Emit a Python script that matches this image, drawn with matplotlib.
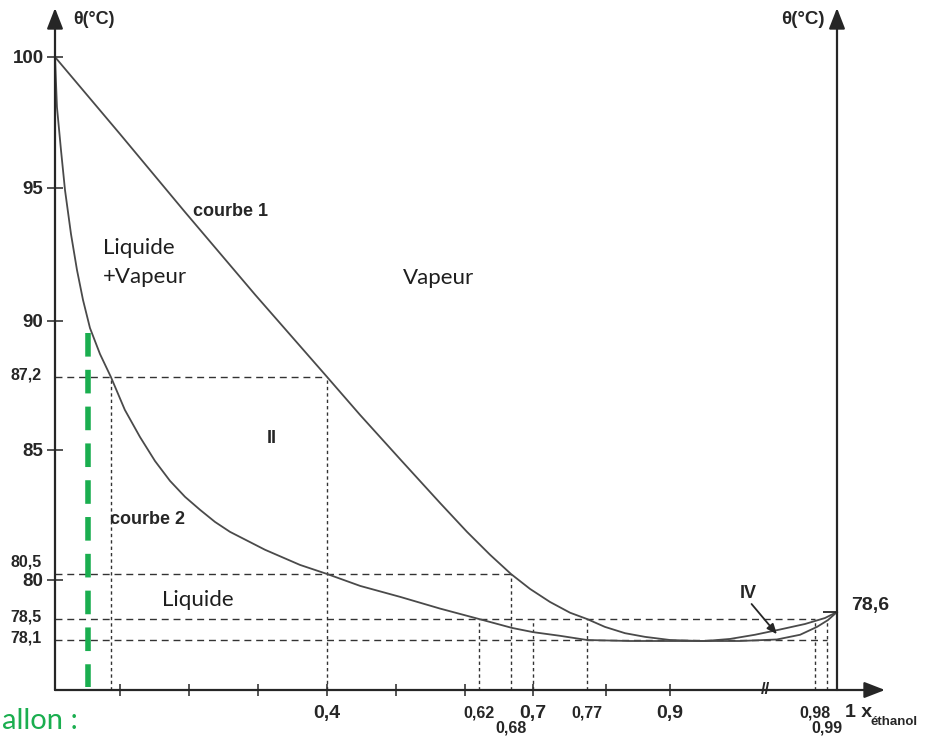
"""Diagramme binaire eau / ethanol (azeotrope), redessine a partir de la figure."""
import numpy as np
import matplotlib
matplotlib.use("Agg")
import matplotlib.pyplot as plt

# --- values: x = fraction molaire d'ethanol, t = theta (°C) ---
courbe1_x = [0.0, 0.1, 0.194, 0.296, 0.4, 0.4476, 0.5056, 0.5635, 0.6026, 0.6406,
             0.68, 0.6973, 0.722, 0.748, 0.77, 0.798, 0.8295, 0.8608, 0.9, 0.9166,
             0.9193, 0.9331, 0.9469, 0.9607, 0.9745, 0.9883, 1.0]
courbe1_t = [100.0, 97.06, 94.10, 90.98, 87.2, 86.06, 84.67, 83.08, 82.03, 81.20,
             80.5, 79.61, 79.04, 78.59, 78.5, 78.35, 78.23, 78.16, 78.1, 78.08,
             78.08, 78.12, 78.2, 78.3, 78.405, 78.514, 78.6]

courbe2_x = [0.0, 0.003, 0.0092, 0.0154, 0.0246, 0.0338, 0.0431, 0.0538, 0.0692, 0.086,
             0.107, 0.129, 0.1507, 0.1724, 0.1942, 0.2159, 0.2376, 0.2593, 0.310,
             0.3607, 0.4, 0.448, 0.506, 0.5635, 0.62, 0.681, 0.7, 0.735, 0.77,
             0.837, 0.9, 0.9193, 0.9386, 0.959, 0.9718, 0.9817, 0.991, 1.0]
courbe2_t = [100.0, 98.09, 96.45, 94.92, 93.27, 91.92, 90.79, 89.65, 88.35, 87.2,
             86.21, 85.39, 84.60, 83.88, 83.30, 82.83, 82.39, 82.03, 81.38,
             80.83, 80.5, 79.74, 79.26, 78.75, 78.5, 78.33, 78.25, 78.18, 78.1,
             78.08, 78.08, 78.08, 78.08, 78.11, 78.2, 78.35, 78.48, 78.6]

# construction lines: dashed to the left axis, dotted down to the x axis
hline_t = [87.2, 80.5, 78.5, 78.1]
hline_xend = [0.4, 0.68, 0.98, 0.99]
vline_x = [0.086, 0.4, 0.62, 0.68, 0.7, 0.77, 0.98, 0.99]
vline_ttop = [87.2, 87.2, 78.5, 80.5, 78.5, 78.5, 78.45, 78.45]

# axis graduations
xticks_major = [0.1, 0.2, 0.3, 0.4, 0.5, 0.6, 0.7, 0.8, 0.9]
xticks_major_labels = ["", "", "", "0,4", "", "", "0,7", "", "0,9"]
xlabels_small = [0.62, 0.77, 0.98]
xlabels_small_low = [0.68, 0.99]
yticks_major = [80, 85, 90, 95, 100]
ylabels_small = [78.1, 78.5, 87.2]
ylabel_raised = 80.5
theta_right = 78.6

green_x = 0.05
green_t = [89.4, 77.15]

# the drawing is not to scale: value -> position knots (pixels of the figure)
X_KNOTS = np.array([0, 0.1, 0.62, 0.68, 0.7, 0.77, 0.9, 0.98, 0.99, 1.0, 1.05])
X_PIX = np.array([55, 120, 479, 511, 533, 587, 670, 815, 827, 837, 887.0])
Y_KNOTS = np.array([77.1, 78.1, 78.5, 78.6, 80, 80.5, 85, 87.2, 90, 95, 100, 102])
Y_PIX = np.array([690, 640, 619, 612, 580, 574, 450, 377, 321, 188, 57, 4.6])


def fx(v):
    return np.interp(v, X_KNOTS, X_PIX)


def fx_inv(p):
    return np.interp(p, X_PIX, X_KNOTS)


def fy(v):
    return -np.interp(v, Y_KNOTS, Y_PIX)


def fy_inv(p):
    return np.interp(-np.asarray(p), Y_PIX[::-1], Y_KNOTS[::-1])


def fmt(v):
    return f"{v:g}".replace(".", ",")


plt.rcParams["font.family"] = ["Liberation Sans", "DejaVu Sans"]
plt.rcParams["lines.scale_dashes"] = False

INK = "#262626"
CURVE = "#4a4a4a"
GREEN = "#1aae4f"
REGION_FONT = ["Lato", "DejaVu Sans"]

W, H = 926, 736
fig = plt.figure(figsize=(W / 100, H / 100), dpi=100)
ax = fig.add_axes([55 / W, (H - 690) / H, (885 - 55) / W, (690 - 8) / H])
ax.set_xscale("function", functions=(fx, fx_inv))
ax.set_yscale("function", functions=(fy, fy_inv))
xmax = float(fx_inv(885))
ymin, ymax = 77.1, float(fy_inv(-8))
ax.set_xlim(0, xmax)
ax.set_ylim(ymin, ymax)
for s in ax.spines.values():
    s.set_visible(False)

# construction lines
for t, xe in zip(hline_t, hline_xend):
    ax.plot([0, xe], [t, t], color="#333333", lw=1.0, dashes=(5, 3.5))
for xv, tt in zip(vline_x, vline_ttop):
    ax.plot([xv, xv], [ymin, tt], color="#333333", lw=1.0, dashes=(2.4, 2.2))

# curves
ax.plot(courbe1_x, courbe1_t, color=CURVE, lw=1.3, solid_joinstyle="round")
ax.plot(courbe2_x, courbe2_t, color=CURVE, lw=1.3, solid_joinstyle="round")

# green marker line
ax.plot([green_x, green_x], green_t, color=GREEN, lw=4, dashes=(17, 9.5))

# axes with arrows
arrow = dict(arrowstyle="-|>,head_length=0.9,head_width=0.35", color=INK, lw=1.6,
             shrinkA=0, shrinkB=0, mutation_scale=14)
ax.annotate("", xy=(0, ymax), xytext=(0, ymin), arrowprops=arrow, annotation_clip=False)
ax.annotate("", xy=(xmax, ymin), xytext=(0, ymin), arrowprops=arrow, annotation_clip=False)
ax.annotate("", xy=(1.0, ymax), xytext=(1.0, ymin), arrowprops=arrow, annotation_clip=False)
ax.plot(1.0, theta_right, marker=0, ms=10, mew=1.3, color=INK)

# ticks
ax.set_xticks(xticks_major, xticks_major_labels, fontweight="bold", fontsize=14)
ax.set_yticks(yticks_major, [fmt(v) for v in yticks_major], fontweight="bold", fontsize=13.5)
ax.tick_params(axis="x", direction="inout", length=8, width=1.1, pad=7, colors=INK)
ax.tick_params(axis="y", direction="inout", length=11.5, width=1.1, pad=2.5, colors=INK)

# small graduation labels
ytr = ax.get_yaxis_transform()
xtr = ax.get_xaxis_transform()
for v in ylabels_small:
    ax.annotate(fmt(v), xy=(0, v), xycoords=ytr, xytext=(-9.4, 1.5), textcoords="offset points",
                ha="right", va="center", fontsize=11.5, fontweight="bold", color=INK)
ax.annotate(fmt(ylabel_raised), xy=(0, ylabel_raised), xycoords=ytr, xytext=(-9.4, 8.6),
            textcoords="offset points", ha="right", va="center", fontsize=11.5,
            fontweight="bold", color=INK)
for v in xlabels_small:
    ax.annotate(fmt(v), xy=(v, 0), xycoords=xtr, xytext=(0, -16.5), textcoords="offset points",
                ha="center", va="center", fontsize=11.5, fontweight="bold", color=INK)
for v in xlabels_small_low:
    ax.annotate(fmt(v), xy=(v, 0), xycoords=xtr, xytext=(0, -27.5), textcoords="offset points",
                ha="center", va="center", fontsize=11.5, fontweight="bold", color=INK)
ax.annotate("1 x", xy=(1.0, 0), xycoords=xtr, xytext=(6, -16.5), textcoords="offset points",
            ha="left", va="center", fontsize=14, fontweight="bold", color=INK)
ax.annotate("éthanol", xy=(1.0, 0), xycoords=xtr, xytext=(24, -23), textcoords="offset points",
            ha="left", va="center", fontsize=9.5, fontweight="bold", color=INK)
ax.annotate(fmt(theta_right), xy=(1.0, theta_right), xycoords="data", xytext=(10, 5),
            textcoords="offset points", ha="left", va="center", fontsize=14,
            fontweight="bold", color=INK, annotation_clip=False)
ax.text(0.9524, 0, "//", transform=xtr, ha="center", va="center", fontsize=12,
        fontweight="bold", color=INK)

# axis titles
ax.annotate("θ(°C)", xy=(0.0, 1.0), xycoords="axes fraction", xytext=(13, -2),
            textcoords="offset points", ha="left", va="top", fontsize=13,
            fontweight="bold", color=INK)
ax.annotate("θ(°C)", xy=(1.0, 1.0), xycoords=("data", "axes fraction"), xytext=(-9, -2),
            textcoords="offset points", ha="right", va="top", fontsize=13.5,
            fontweight="bold", color=INK, annotation_clip=False)

# region / curve labels
ax.text(0.074, 92.2, "Liquide\n+Vapeur", ha="left", va="center", fontsize=16,
        family=REGION_FONT, color="#1e1e1e", linespacing=1.6)
ax.text(0.561, 91.62, "Vapeur", ha="center", va="center", fontsize=16,
        family=REGION_FONT, color="#1e1e1e")
ax.text(0.213, 79.13, "Liquide", ha="center", va="center", fontsize=16,
        family=REGION_FONT, color="#1e1e1e")
ax.text(0.2057, 94.1, "courbe 1", ha="left", va="center", fontsize=13,
        fontweight="bold", color=INK)
ax.text(0.0846, 82.46, "courbe 2", ha="left", va="center", fontsize=13,
        fontweight="bold", color=INK)
ax.text(0.32, 85.36, "II", ha="center", va="center", fontsize=13,
        fontweight="bold", color=INK)
ax.text(0.943, 79.43, "IV", ha="center", va="center", fontsize=13,
        fontweight="bold", color=INK)
ax.annotate("", xy=(0.959, 78.21), xytext=(0.945, 78.95),
            arrowprops=dict(arrowstyle="-|>,head_length=0.6,head_width=0.25", color=INK,
                            lw=1.3, shrinkA=0, shrinkB=0, mutation_scale=10))

fig.text(2 / W, (H - 729) / H, "allon :", ha="left", va="baseline", fontsize=21,
         family=REGION_FONT, color=GREEN)

fig.savefig("out.png", dpi=100)
